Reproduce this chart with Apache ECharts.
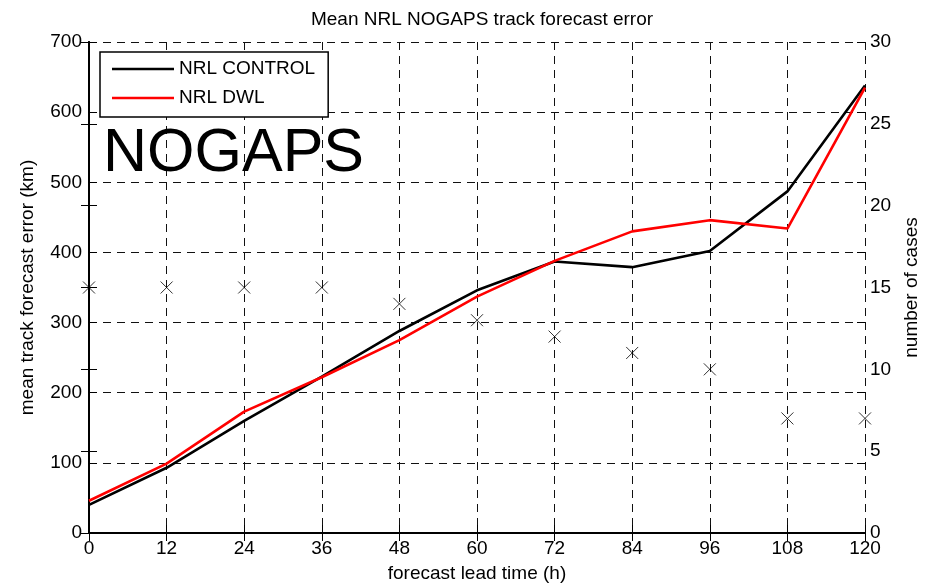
<!DOCTYPE html>
<html>
<head>
<meta charset="utf-8">
<script src="https://cdn.jsdelivr.net/npm/echarts@6/dist/echarts.min.js"></script>
<style>
html,body{margin:0;padding:0;background:#fff;}
#chart{width:932px;height:588px;}
</style>
</head>
<body>
<div id="chart"></div>
<script>
// ---- data ----
var leadHours = [0, 12, 24, 36, 48, 60, 72, 84, 96, 108, 120];
var nrlControl = [40, 93, 160, 223, 288, 346, 387, 379, 402, 487, 638];
var nrlDwl = [46, 99, 173, 222, 275, 337, 388, 430, 446, 434, 635];
var numCases = [15, 15, 15, 15, 14, 13, 12, 11, 10, 7, 7];
var leftTicks = [0, 100, 200, 300, 400, 500, 600, 700];
var rightTicks = [0, 5, 10, 15, 20, 25, 30];

function pairs(xs, ys) { return xs.map(function (x, i) { return [x, ys[i]]; }); }

var FONT = "'Liberation Sans', Arial, Helvetica, sans-serif";
var PLOT_W = 932 - 89 - 67;
var chart = echarts.init(document.getElementById('chart'), null, {renderer: 'canvas'});

var tickIn = {show: true, inside: true, length: 8, lineStyle: {color: '#000', width: 1}};
var tickOut = {show: true, inside: false, length: 8, lineStyle: {color: '#000', width: 1}};
var gridLine = {show: true, lineStyle: {color: '#111', width: 1, type: [8, 6]}};
var lineIcon = 'path://M0,0L62,0L62,2.6L0,2.6Z';

var option = {
  backgroundColor: '#fff',
  animation: false,
  textStyle: {fontFamily: FONT},
  title: {
    text: 'Mean NRL NOGAPS track forecast error',
    left: 477, top: 5, textAlign: 'center',
    textStyle: {fontFamily: FONT, fontSize: 19, fontWeight: 'normal', color: '#000'}
  },
  grid: {left: 89, right: 67, top: 42, bottom: 54, containLabel: false},
  legend: {
    data: [{name: 'NRL CONTROL', icon: lineIcon}, {name: 'NRL DWL', icon: lineIcon}],
    orient: 'vertical',
    left: 100, top: 52,
    itemWidth: 62, itemHeight: 20, itemGap: 9,
    padding: [7, 13, 9, 12],
    borderColor: '#000', borderWidth: 1.5, backgroundColor: '#fff', borderRadius: 0,
    textStyle: {fontFamily: FONT, fontSize: 19, color: '#000', lineHeight: 20}
  },
  xAxis: [{
    type: 'value', position: 'bottom', min: 0, max: 120, interval: 12,
    name: 'forecast lead time (h)', nameLocation: 'middle', nameGap: 31,
    nameTextStyle: {fontFamily: FONT, fontSize: 19, color: '#000'},
    axisLine: {show: true, lineStyle: {color: '#000', width: 2}},
    axisTick: tickIn,
    axisLabel: {fontFamily: FONT, fontSize: 19, color: '#000', margin: 6},
    splitLine: gridLine
  }, {
    type: 'value', position: 'top', min: 0, max: 120, interval: 12,
    axisLine: {show: true, lineStyle: {color: '#000', width: 1}},
    axisTick: tickIn, axisLabel: {show: false}, splitLine: {show: false}
  }],
  yAxis: [{
    type: 'value', position: 'left', min: leftTicks[0], max: leftTicks[leftTicks.length - 1], interval: 100,
    name: 'mean track forecast error (km)', nameLocation: 'middle', nameGap: 52,
    nameTextStyle: {fontFamily: FONT, fontSize: 19, color: '#000'},
    axisLine: {show: true, lineStyle: {color: '#000', width: 2}},
    axisTick: tickIn,
    axisLabel: {fontFamily: FONT, fontSize: 19, color: '#000', margin: 7},
    splitLine: gridLine
  }, {
    type: 'value', position: 'right', min: rightTicks[0], max: rightTicks[rightTicks.length - 1], interval: 5,
    name: 'number of cases', nameLocation: 'middle', nameGap: 36,
    nameTextStyle: {fontFamily: FONT, fontSize: 19, color: '#000'},
    axisLine: {show: true, lineStyle: {color: '#000', width: 2}},
    axisTick: tickIn,
    axisLabel: {fontFamily: FONT, fontSize: 19, color: '#000', margin: 5},
    splitLine: {show: false}
  }, {
    // mirrored left-axis ticks along the right edge
    type: 'value', position: 'left', offset: -PLOT_W, min: 0, max: 700, interval: 100,
    axisLine: {show: false}, axisTick: tickOut, axisLabel: {show: false}, splitLine: {show: false}
  }, {
    // mirrored right-axis ticks along the left edge
    type: 'value', position: 'right', offset: -PLOT_W, min: 0, max: 30, interval: 5,
    axisLine: {show: false}, axisTick: tickOut, axisLabel: {show: false}, splitLine: {show: false}
  }],
  graphic: [{
    type: 'text', left: 103, top: 124, z: 5,
    style: {text: 'NOGAPS', font: '61px ' + FONT, fill: '#000'}
  }],
  series: [{
    name: 'cases', type: 'scatter', xAxisIndex: 0, yAxisIndex: 1,
    data: pairs(leadHours, numCases),
    symbol: 'path://M0,0L10,10M10,0L0,10', symbolSize: 12,
    itemStyle: {color: 'rgba(0,0,0,0)', borderColor: '#000', borderWidth: 1},
    z: 2
  }, {
    name: 'NRL CONTROL', type: 'line', xAxisIndex: 0, yAxisIndex: 0,
    data: pairs(leadHours, nrlControl), symbol: 'none', showSymbol: false,
    lineStyle: {color: '#000', width: 2.6}, itemStyle: {color: '#000'}, z: 3
  }, {
    name: 'NRL DWL', type: 'line', xAxisIndex: 0, yAxisIndex: 0,
    data: pairs(leadHours, nrlDwl), symbol: 'none', showSymbol: false,
    lineStyle: {color: '#ff0000', width: 2.6}, itemStyle: {color: '#ff0000'}, z: 4
  }]
};
chart.setOption(option);
</script>
</body>
</html>
